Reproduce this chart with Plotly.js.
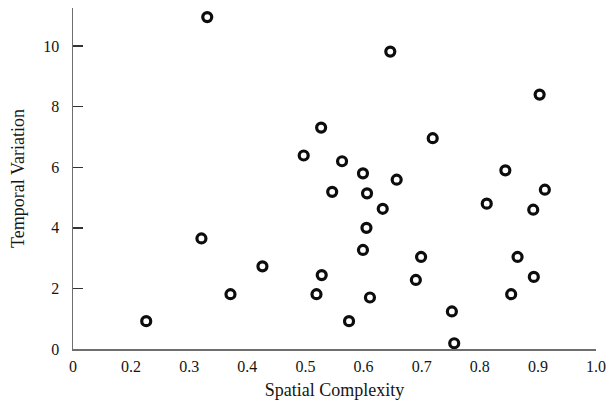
<!DOCTYPE html>
<html>
<head>
<meta charset="utf-8">
<script src="https://cdn.plot.ly/plotly-3.0.1.min.js"></script>
<style>html,body{margin:0;padding:0;background:#fff;}#chart{width:613px;height:406px;}</style>
</head>
<body>
<div id="chart"></div>
<script>
// Spatial complexity (x) and temporal variation (y) of each observation
const spatialComplexity = [
  0.226, 0.321, 0.371, 0.331, 0.426, 0.528, 0.519, 0.575, 0.611, 0.599, 0.605,
  0.633, 0.606, 0.546, 0.599, 0.657, 0.699, 0.690, 0.844, 0.912, 0.812, 0.892,
  0.865, 0.893, 0.854, 0.752, 0.756, 0.646, 0.527, 0.497, 0.563, 0.903, 0.719
];
const temporalVariation = [
  0.92, 3.65, 1.81, 10.96, 2.73, 2.44, 1.81, 0.92, 1.70, 3.27, 4.00,
  4.63, 5.14, 5.19, 5.80, 5.59, 3.04, 2.28, 5.90, 5.26, 4.80, 4.60,
  3.04, 2.38, 1.81, 1.24, 0.19, 9.82, 7.31, 6.39, 6.20, 8.40, 6.96
];
// Axis ticks (the x axis starts with a "0" label at the position of 0.1)
const xTickVals = [0.1, 0.2, 0.3, 0.4, 0.5, 0.6, 0.7, 0.8, 0.9, 1.0];
const xTickText = ["0", "0.2", "0.3", "0.4", "0.5", "0.6", "0.7", "0.8", "0.9", "1.0"];
const xTickMarks = [0.2, 0.3, 0.4, 0.5, 0.6, 0.7, 0.8, 0.9];
const yTickVals = [0, 2, 4, 6, 8, 10];
const yTickText = ["0", "2", "4", "6", "8", "10"];

const serif = "Liberation Serif, Times New Roman, serif";
const textColor = "#151515";
const lineColor = "#6e6e6e";

const trace = {
  type: "scatter",
  mode: "markers",
  x: spatialComplexity,
  y: temporalVariation,
  marker: {symbol: "circle-open", size: 9, color: "#0d0d0d", line: {width: 3.2, color: "#0d0d0d"}},
  hoverinfo: "x+y",
  showlegend: false
};

const layout = {
  width: 613,
  height: 406,
  margin: {l: 73, r: 17, t: 8, b: 57},
  paper_bgcolor: "#fff",
  plot_bgcolor: "#fff",
  showlegend: false,
  font: {family: serif, color: textColor},
  xaxis: {
    range: [0.1, 1.0],
    tickmode: "array",
    tickvals: xTickVals,
    ticktext: xTickText,
    ticks: "",
    showline: true,
    linecolor: lineColor,
    linewidth: 1.5,
    showgrid: false,
    zeroline: false,
    tickfont: {family: serif, size: 16, color: textColor},
    ticklabelstandoff: 2,
    title: {text: "Spatial Complexity", font: {family: serif, size: 18, color: textColor}, standoff: 9}
  },
  xaxis2: {
    overlaying: "x",
    anchor: "y",
    range: [0.1, 1.0],
    tickmode: "array",
    tickvals: xTickMarks,
    ticks: "inside",
    ticklen: 10,
    tickwidth: 1.5,
    tickcolor: "#333",
    showticklabels: false,
    showline: false,
    showgrid: false,
    zeroline: false
  },
  yaxis: {
    range: [0, 11.26],
    tickmode: "array",
    tickvals: yTickVals,
    ticktext: yTickText,
    ticks: "inside",
    ticklen: 10,
    tickwidth: 1.5,
    tickcolor: "#333",
    showline: true,
    linecolor: lineColor,
    linewidth: 1.5,
    showgrid: false,
    zeroline: false,
    tickfont: {family: serif, size: 16, color: textColor},
    ticklabelstandoff: 9,
    title: {text: "Temporal Variation", font: {family: serif, size: 18, color: textColor}, standoff: 14}
  }
};

Plotly.newPlot("chart", [trace], layout, {displayModeBar: false, staticPlot: true});
</script>
</body>
</html>
